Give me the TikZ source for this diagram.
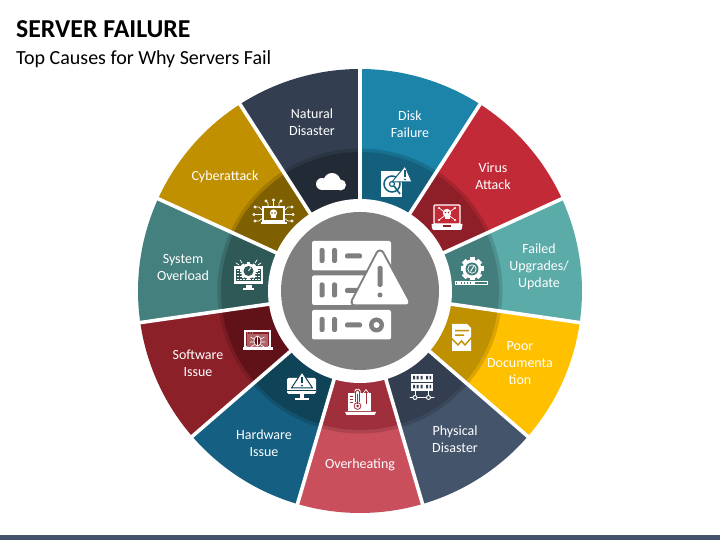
\documentclass[tikz,border=0pt]{standalone}
\usepackage{fontspec}
\setmainfont{Carlito}
\definecolor{oA}{HTML}{1C83A9}\definecolor{iA}{HTML}{135F7C}
\definecolor{oB}{HTML}{C12A36}\definecolor{iB}{HTML}{8E1E27}
\definecolor{oC}{HTML}{5BABA9}\definecolor{iC}{HTML}{437E7C}
\definecolor{oD}{HTML}{FFC000}\definecolor{iD}{HTML}{BF9000}
\definecolor{oE}{HTML}{44546A}\definecolor{iE}{HTML}{333F50}
\definecolor{oF}{HTML}{C94F5C}\definecolor{iF}{HTML}{A02F3C}
\definecolor{oG}{HTML}{156082}\definecolor{iG}{HTML}{0F4357}
\definecolor{oH}{HTML}{8C2029}\definecolor{iH}{HTML}{611219}
\definecolor{oI}{HTML}{44807E}\definecolor{iI}{HTML}{2F5957}
\definecolor{oJ}{HTML}{C09000}\definecolor{iJ}{HTML}{7F6000}
\definecolor{oK}{HTML}{333F50}\definecolor{iK}{HTML}{222A35}
\definecolor{hubgray}{HTML}{7F7F7F}
\tikzset{
  lbl/.style={text=white,font=\fontsize{14}{17}\selectfont,align=center,inner sep=0pt},
  wl/.style={draw=white,line width=1pt,line cap=round},
  wt/.style={draw=white,line width=.7pt,line cap=round},
}
\newcommand{\wedgeseg}[3]{%
  \fill[o#3] (#1:222pt) arc[start angle=#1,end angle=#2,radius=222pt] -- (0,0) -- cycle;
  \fill[black,opacity=.14] (#1:142.5pt) arc[start angle=#1,end angle=#2,radius=142.5pt] -- (0,0) -- cycle;
  \fill[i#3] (#1:139pt) arc[start angle=#1,end angle=#2,radius=139pt] -- (0,0) -- cycle;
}
\begin{document}
\begin{tikzpicture}[x=1pt,y=1pt]
\useasboundingbox (0,0) rectangle (720,540);
\fill[white] (0,0) rectangle (720,540);
\fill[oE] (0,0) rectangle (720,5);
\node[anchor=west,inner sep=0pt,font=\fontsize{25.8}{29}\bfseries\selectfont] (title) at (16,510.5) {SERVER FAILURE};
\node[anchor=west,inner sep=0pt,font=\fontsize{20}{24}\selectfont] (subtitle) at (16,480.5) {Top Causes for Why Servers Fail};
% wheel
\begin{scope}[shift={(360pt,249pt)}]
\wedgeseg{57.27}{90}{A}
\wedgeseg{24.55}{57.27}{B}
\wedgeseg{-8.18}{24.55}{C}
\wedgeseg{-40.91}{-8.18}{D}
\wedgeseg{-73.64}{-40.91}{E}
\wedgeseg{-106.36}{-73.64}{F}
\wedgeseg{-139.09}{-106.36}{G}
\wedgeseg{-171.82}{-139.09}{H}
\wedgeseg{155.45}{188.18}{I}
\wedgeseg{122.73}{155.45}{J}
\wedgeseg{90}{122.73}{K}
\foreach \a in {90,57.27,24.55,-8.18,-40.91,-73.64,-106.36,-139.09,-171.82,155.45,122.73}
  \draw[white,line width=3.6pt] (0,0) -- (\a:226pt);
\fill[white] (0,0) circle (92pt);
\fill[hubgray] (0,0) circle (79pt);
\end{scope}
% icons in reference pixel coordinates
\begin{scope}[yshift=540pt,y=-1pt]
% hub icon
\foreach \t in {241,275.5,310}{
  \fill[white,rounded corners=2pt] (312,\t) rectangle (391,\t+29.5);
  \foreach \x in {319.5,332}
    \fill[hubgray,rounded corners=2pt] (\x,\t+7) rectangle (\x+5,\t+22);
  \fill[hubgray,rounded corners=2pt] (345,\t+12.5) rectangle (362,\t+17.5);
}
\fill[hubgray] (376.5,325) circle (7.5pt);
\fill[white] (376.5,325) circle (3pt);
\draw[hubgray,line width=9pt,line join=round] (380,254) -- (355,302) -- (406,302) -- cycle;
\fill[white] (380,254) -- (355,302) -- (406,302) -- cycle;
\draw[white,line width=5pt,line join=round] (380,254) -- (355,302) -- (406,302) -- cycle;
\fill[hubgray,rounded corners=1.5pt] (377.5,266) rectangle (382.5,287);
\fill[hubgray] (380,295) circle (2.5pt);
% cloud
\fill[white] (332,181.5) circle (8.5pt) (322,184) circle (6pt) (340.5,185) circle (5.5pt);
\fill[white] (322,183) rectangle (340,190);
% disk
\fill[white] (381,171) rectangle (402,197);
\draw[iA,line width=1.5pt] (392,184) circle (8pt);
\draw[iA,line width=1.2pt] (392,184) circle (2.5pt);
\draw[iA,line width=1.6pt] (394,186) -- (400,194);
\draw[iA,line width=1pt,line join=round,fill=white] (405,166) -- (392,182) -- (412,182) -- cycle;
\fill[iA] (404.2,170.5) rectangle (405.8,177);
\fill[iA] (405,179.3) circle (1pt);
% virus laptop
\draw[white,line width=1.2pt,rounded corners=1pt,fill=oB] (434,205) rectangle (460,224);
\fill[white] (431.5,224) -- (462.5,224) -- (462,228) -- (461,230) -- (433,230) -- (432,228) -- cycle;
\fill[iB] (443,225.5) rectangle (451,227.5);
\foreach \p/\q in {439/208,455/208,439/220,455/220}{
  \draw[wt] (447,214) -- (\p,\q);
  \fill[white] (\p,\q) circle (1.1pt);
}
\fill[white] (447,213) circle (4.2pt);
\fill[white] (444.5,215) rectangle (449.5,219);
\fill[oB] (445.4,212.5) circle (.9pt) (448.6,212.5) circle (.9pt);
% gear
\foreach \a in {0,45,...,315}
  \fill[white,rotate around={\a:(472,269)}] (469.5,257.5) rectangle (474.5,280.5);
\fill[white] (472,269) circle (9.5pt);
\fill[iC] (472,269) circle (6.5pt);
\draw[white,line width=.7pt] (472,269) circle (4.2pt);
\draw[white,line width=.9pt] (470.5,271.5) -- (474,266);
\draw[white,line width=.7pt] (455.5,281.5) rectangle (487,284.5);
\draw[white,line width=1.6pt,dash pattern=on 2pt off .8pt] (456.5,283) -- (475,283);
% document
\fill[white] (452,324) -- (467,324) -- (471,328) -- (471,351) -- (452,351) -- cycle;
\fill[iD] (455,330) rectangle (469,331.5) (455,334.5) rectangle (464,336);
\draw[iD,line width=1.4pt,line join=miter] (451,338) -- (458,345) -- (461.5,341) -- (465,345) -- (472,337);
% physical server
\foreach \t in {374,383}{
  \fill[white] (411,\t) rectangle (433,\t+8);
  \fill[iE] (413,\t+2) rectangle (415,\t+5.5) (416.5,\t+2) rectangle (418.5,\t+5.5) (420.5,\t+2) rectangle (422.5,\t+5.5) (426,\t+2) rectangle (428,\t+5.5) (429.5,\t+2) rectangle (431,\t+5.5);
}
\draw[wl] (415,391) -- (415,395) (428.5,391) -- (428.5,395);
\draw[wl] (410,397.5) -- (434,397.5);
\draw[white,line width=.9pt,fill=iE] (415,397.5) circle (2pt) (428.5,397.5) circle (2pt);
% overheating
\fill[white] (348,393) rectangle (371,411);
\fill[white] (345,412) -- (376,412) -- (374.5,415) -- (346.5,415) -- cycle;
\fill[white,rounded corners=2pt] (354.5,389) rectangle (360.5,402);
\draw[iF,line width=.8pt,rounded corners=1.8pt] (355.5,402) -- (355.5,390) -- (359.5,390) -- (359.5,402);
\draw[iF,line width=.8pt] (357.5,406) circle (3.4pt);
\fill[iF] (357.5,406) circle (1.5pt);
\draw[iF,line width=.8pt] (357.5,394) -- (357.5,404);
\draw[iF,line width=.8pt] (350,396) -- (353,396) (350,399) -- (353,399) (350,402) -- (353,402);
\draw[iF,line width=1pt] (366,404) -- (366,393);
\fill[white] (363,393) -- (366,389) -- (369,393) -- cycle;
\fill[iF] (364,393) -- (366,390.5) -- (368,393) -- cycle;
% hardware monitor
\fill[white,rounded corners=1.5pt] (287,378) rectangle (316,394);
\draw[iG,line width=.7pt] (287,390.5) -- (316,390.5);
\draw[iG,line width=1pt,line join=round,fill=white] (302,372) -- (291.5,388) -- (312.5,388) -- cycle;
\fill[iG] (301.2,377) rectangle (302.8,383.5);
\fill[iG] (302,385.7) circle (1pt);
\fill[white] (300,394) rectangle (304,398);
\fill[white] (295,398) rectangle (309,400);
% software laptop
\draw[white,line width=1.2pt,fill=oH] (245,331) rectangle (270,347);
\fill[oH!70!white] (247,334) rectangle (268,347);
\fill[white] (243,347) rectangle (272.5,350);
\foreach \x in {247.5,250,252.5} \fill[white] (\x,332.8) circle (.5pt);
\draw[white,line width=.7pt,fill=iH] (257.5,341) ellipse (3.5pt and 5pt);
\draw[white,line width=.6pt] (257.5,336) -- (257.5,346)
  (254,339) -- (250.5,337) (254,342) -- (250,342) (254.5,344.5) -- (251,347)
  (261,339) -- (264.5,337) (261,342) -- (265,342) (260.5,344.5) -- (264,347);
% system overload monitor
\fill[white] (234,266.5) rectangle (263,284);
\fill[iI] (236,269) rectangle (261,281);
\foreach \y in {270.5,273.5,276.5,279.5}
  \draw[white,line width=1pt,dash pattern=on 2pt off 1pt] (236.5,\y) -- (260.5,\y);
\fill[white] (245.5,285) rectangle (251.5,288);
\fill[white] (243,288) rectangle (254,290);
\foreach \a in {0,45,...,315}
  \fill[white,rotate around={\a:(248.5,271)}] (247,262) rectangle (250,280);
\fill[white] (248.5,271) circle (7.5pt);
\fill[iI] (248.5,271) circle (5pt);
\draw[white,line width=.8pt] (248.5,271) -- (251,267.5);
\draw[wt] (240,260) -- (242,263) (236,263) -- (239,265) (257,260) -- (255,263) (261,263) -- (258,265);
% cyberattack laptop
\draw[white,line width=1.1pt,fill=iJ] (263,207) rectangle (284,221);
\fill[white] (260.5,222) rectangle (286.5,224.5);
\fill[white] (273.5,213) circle (3.7pt);
\fill[white] (271.2,215) rectangle (275.8,218.5);
\fill[iJ] (272,213) circle (.8pt) (275,213) circle (.8pt);
\foreach \a/\b/\c/\d/\e/\f in {
  263/211/259/207/255/207, 263/214.5/258/214.5/254/214.5, 263/218/259/221/255/221,
  284/211/288/207/292/207, 284/214.5/289/214.5/293/214.5, 284/218/288/221/292/221,
  268/207/268/203/266/201, 273.5/207/273.5/203/273.5/200, 279/207/279/203/281/201}{
  \draw[wt,line width=.6pt] (\a,\b) -- (\c,\d) -- (\e,\f);
  \draw[white,line width=.6pt,fill=iJ] (\e,\f) circle (1.1pt);
}
% labels
\node[lbl] (natural) at (312,122.5) {Natural\\Disaster};
\node[lbl] (disk) at (410,124.5) {Disk\\Failure};
\node[lbl] (virus) at (493,176.5) {Virus\\Attack};
\node[lbl] (failed) at (539,267) {Failed\\Upgrades/\\Update};
\node[lbl] (poor) at (520,363) {Poor\\Documenta\\tion};
\node[lbl] (physical) at (455,439.5) {Physical\\Disaster};
\node[lbl] (overheat) at (360,465) {Overheating};
\node[lbl] (hardware) at (264,443.5) {Hardware\\Issue};
\node[lbl] (software) at (198,363.5) {Software\\Issue};
\node[lbl] (system) at (183,267.5) {System\\Overload};
\node[lbl] (cyber) at (225,177) {Cyberattack};
\end{scope}
\end{tikzpicture}
\end{document}
